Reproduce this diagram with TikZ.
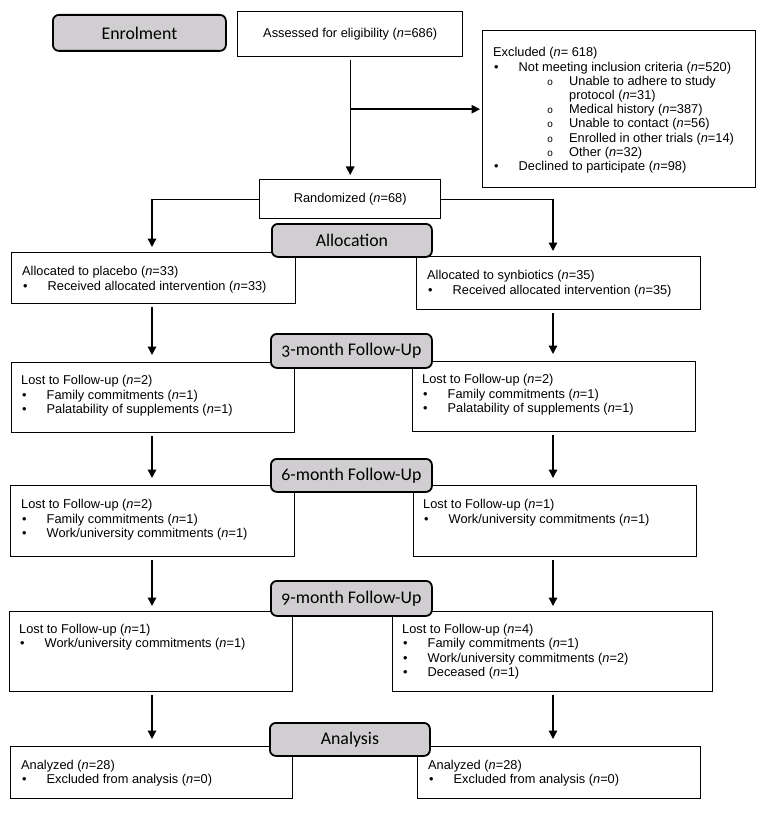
\documentclass[tikz,border=0pt]{standalone}
\usepackage{fontspec}
\setmainfont{Liberation Sans}
\newfontfamily\hdrfont[Numbers=OldStyle]{Carlito}
\newfontfamily\submono{Liberation Mono}
\usetikzlibrary{arrows.meta}
\definecolor{hdrgray}{RGB}{208,206,208}
\newcommand\nn{\textit{n}}
\newcommand\itm[1]{\par\makebox[25.5pt][l]{\hspace{1pt}\textbullet}#1}
\newcommand\subitm[1]{\par\hspace*{54pt}\makebox[22pt][l]{{\submono\fontsize{10}{10}\selectfont o}}#1}
\newcommand\subcont[1]{\par\hspace*{76pt}#1}
\newcommand\lines[2][14.6]{\parbox[t]{300pt}{\fontsize{12.8}{#1}\selectfont\raggedright\setlength\parindent{0pt}#2}}
\tikzset{
  box/.style={draw, line width=1.4pt, anchor=north west, inner sep=0,
    font=\fontsize{12.8}{14.6}\selectfont},
  hdr/.style={draw, line width=1.8pt, rounded corners=6pt, fill=hdrgray,
    anchor=north west, inner sep=0, font=\hdrfont\fontsize{17.8}{20}\selectfont},
  txt/.style={anchor=base west, inner sep=0},
  arr/.style={line width=1.4pt, -{Triangle[length=8.5pt,width=8.5pt]},
    shorten >=7pt, shorten <=3pt},
}
\begin{document}
\begin{tikzpicture}[x=1pt,y=-1pt]
\useasboundingbox (0,0) rectangle (765,813);
\coordinate (colL) at (152,0);
\coordinate (colR) at (553,0);

% main boxes
\node[box, minimum width=225pt, minimum height=45pt] (assessed) at (237,11) {Assessed for eligibility (\nn=686)};
\node[box, minimum width=273pt, minimum height=157pt] (excluded) at (482,30) {};
\node[box, minimum width=181pt, minimum height=39pt] (randomized) at (259,179) {Randomized (\nn=68)};
\node[box, minimum width=284pt, minimum height=51pt] (placebo) at (11,252) {};
\node[box, minimum width=284pt, minimum height=53pt] (synb) at (416,256) {};
\node[box, minimum width=283pt, minimum height=70pt] (ltfL1) at (11,362) {};
\node[box, minimum width=283pt, minimum height=70pt] (ltfR1) at (412,361) {};
\node[box, minimum width=284pt, minimum height=71pt] (ltfL2) at (10,485) {};
\node[box, minimum width=283pt, minimum height=71pt] (ltfR2) at (413,485) {};
\node[box, minimum width=283pt, minimum height=80pt] (ltfL3) at (9,611) {};
\node[box, minimum width=320pt, minimum height=80pt] (ltfR3) at (392,611) {};
\node[box, minimum width=282pt, minimum height=52pt] (anL) at (10,746) {};
\node[box, minimum width=283pt, minimum height=52pt] (anR) at (417,746) {};

% texts
\node[txt] (texcl) at (493,57) {\lines[14.2]{Excluded (\nn= 618)
  \itm{Not meeting inclusion criteria (\nn=520)}
  \subitm{Unable to adhere to study}
  \subcont{protocol (\nn=31)}
  \subitm{Medical history (\nn=387)}
  \subitm{Unable to contact (\nn=56)}
  \subitm{Enrolled in other trials (\nn=14)}
  \subitm{Other (\nn=32)}
  \itm{Declined to participate (\nn=98)}}};
\node[txt] (tplacebo) at (22,275.5) {\lines{Allocated to placebo (\nn=33)
  \itm{Received allocated intervention (\nn=33)}}};
\node[txt] (tsynb) at (427,279.5) {\lines{Allocated to synbiotics (\nn=35)
  \itm{Received allocated intervention (\nn=35)}}};
\node[txt] (tltfL1) at (21,384.5) {\lines{Lost to Follow-up (\nn=2)
  \itm{Family commitments (\nn=1)}
  \itm{Palatability of supplements (\nn=1)}}};
\node[txt] (tltfR1) at (422,383.5) {\lines{Lost to Follow-up (\nn=2)
  \itm{Family commitments (\nn=1)}
  \itm{Palatability of supplements (\nn=1)}}};
\node[txt] (tltfL2) at (21,508.5) {\lines{Lost to Follow-up (\nn=2)
  \itm{Family commitments (\nn=1)}
  \itm{Work/university commitments (\nn=1)}}};
\node[txt] (tltfR2) at (423,508.5) {\lines{Lost to Follow-up (\nn=1)
  \itm{Work/university commitments (\nn=1)}}};
\node[txt] (tltfL3) at (19,633) {\lines{Lost to Follow-up (\nn=1)
  \itm{Work/university commitments (\nn=1)}}};
\node[txt] (tltfR3) at (402,633) {\lines{Lost to Follow-up (\nn=4)
  \itm{Family commitments (\nn=1)}
  \itm{Work/university commitments (\nn=2)}
  \itm{Deceased (\nn=1)}}};
\node[txt] (tanL) at (21,769) {\lines{Analyzed (\nn=28)
  \itm{Excluded from analysis (\nn=0)}}};
\node[txt] (tanR) at (428,769) {\lines{Analyzed (\nn=28)
  \itm{Excluded from analysis (\nn=0)}}};

% connectors
\draw[arr, shorten >=4pt] (assessed) -- (randomized);
\draw[arr, shorten <=0pt, shorten >=2pt] (assessed.south |- excluded.west) -- (excluded.west);
\draw[arr, shorten <=0pt, shorten >=5pt] (randomized.west) -| (placebo.north -| colL);
\draw[arr, shorten <=0pt, shorten >=5pt] (randomized.east) -| (synb.north -| colR);
\draw[arr] (placebo.south -| colL) -- (ltfL1.north -| colL);
\draw[arr] (synb.south -| colR) -- (ltfR1.north -| colR);
\draw[arr] (ltfL1.south -| colL) -- (ltfL2.north -| colL);
\draw[arr] (ltfR1.south -| colR) -- (ltfR2.north -| colR);
\draw[arr, shorten >=5pt] (ltfL2.south -| colL) -- (ltfL3.north -| colL);
\draw[arr, shorten >=5pt] (ltfR2.south -| colR) -- (ltfR3.north -| colR);
\draw[arr] (ltfL3.south -| colL) -- (anL.north -| colL);
\draw[arr] (ltfR3.south -| colR) -- (anR.north -| colR);

% stage headers
\node[hdr, minimum width=173pt, minimum height=36pt] (enrol) at (52,14) {Enrolment};
\node[hdr, minimum width=160pt, minimum height=33pt] (alloc) at (271,223) {Allocation};
\node[hdr, minimum width=161pt, minimum height=34pt] (fu3) at (270,333) {3-month Follow-Up};
\node[hdr, minimum width=161pt, minimum height=33pt] (fu6) at (270,458) {6-month Follow-Up};
\node[hdr, minimum width=161pt, minimum height=35pt] (fu9) at (270,580) {9-month Follow-Up};
\node[hdr, minimum width=160pt, minimum height=33pt] (anal) at (269,722) {Analysis};
\end{tikzpicture}
\end{document}
